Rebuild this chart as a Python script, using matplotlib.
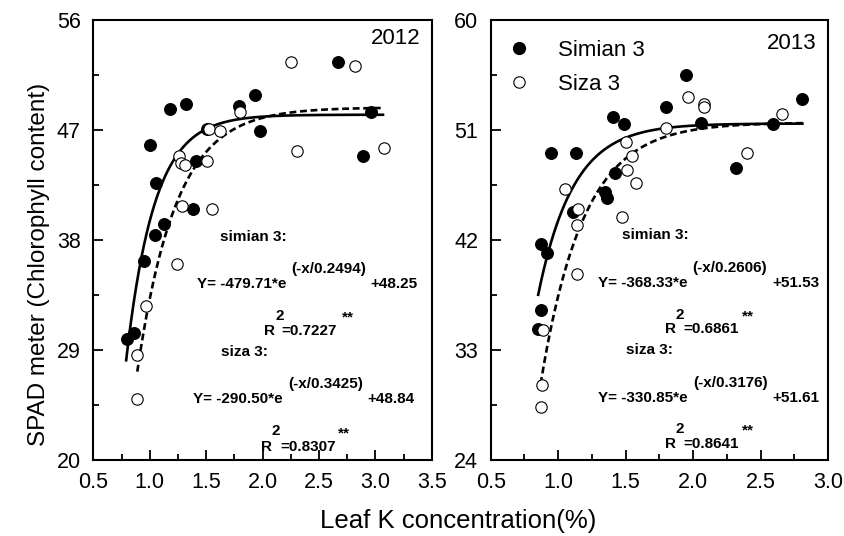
import numpy as np
import matplotlib
matplotlib.use("Agg")
import matplotlib.pyplot as plt
from matplotlib.ticker import FormatStrFormatter, MultipleLocator
from matplotlib.lines import Line2D

plt.rcParams['font.family'] = ['Liberation Sans', 'DejaVu Sans']

# ---------------- data ----------------
simian2012_x = [0.80, 0.86, 0.95, 1.00, 1.05, 1.06, 1.13, 1.18, 1.32, 1.38, 1.41, 1.51, 1.79, 1.93, 1.98, 2.67, 2.89, 2.96]
simian2012_y = [29.9, 30.4, 36.3, 45.8, 38.4, 42.7, 39.3, 48.7, 49.1, 40.5, 44.5, 47.1, 49.0, 49.9, 46.9, 52.6, 44.9, 48.5]
siza2012_x = [0.89, 0.89, 0.97, 1.24, 1.26, 1.28, 1.31, 1.29, 1.51, 1.53, 1.55, 1.62, 1.80, 2.25, 2.31, 2.82, 3.08]
siza2012_y = [25.0, 28.6, 32.6, 36.0, 44.9, 44.3, 44.1, 40.8, 44.5, 47.05, 40.5, 46.9, 48.45, 52.6, 45.3, 52.2, 45.5]

simian2013_x = [0.85, 0.87, 0.87, 0.92, 0.95, 1.11, 1.13, 1.35, 1.36, 1.41, 1.42, 1.49, 1.80, 1.95, 2.06, 2.32, 2.59, 2.81]
simian2013_y = [34.7, 36.3, 41.7, 40.9, 49.1, 44.3, 49.1, 45.9, 45.4, 52.1, 47.5, 51.5, 52.9, 55.5, 51.6, 47.9, 51.5, 53.5]
siza2013_x = [0.87, 0.88, 0.89, 1.05, 1.14, 1.14, 1.15, 1.47, 1.50, 1.51, 1.55, 1.58, 1.80, 1.96, 2.08, 2.08, 2.40, 2.66]
siza2013_y = [28.3, 30.1, 34.6, 46.2, 39.2, 43.2, 44.5, 43.9, 50.0, 47.7, 48.9, 46.7, 51.2, 53.7, 53.1, 52.9, 49.1, 52.3]

# fitted model parameters: Y = a*exp(-x/b) + c
fit2012_simian = (-479.71, 0.2494, 48.25)
fit2012_siza = (-290.50, 0.3425, 48.84)
fit2013_simian = (-368.33, 0.2606, 51.53)
fit2013_siza = (-330.85, 0.3176, 51.61)
fit_range_2012_simian = (0.79, 3.08)
fit_range_2012_siza = (0.89, 3.08)
fit_range_2013_simian = (0.85, 2.82)
fit_range_2013_siza = (0.87, 2.82)

yticks_2012 = [20, 29, 38, 47, 56]
yticks_2013 = [24, 33, 42, 51, 60]

legend_labels = ['Simian 3', 'Siza 3']
years = ['2012', '2013']

# ---------------- figure ----------------
W, H = 844, 536
fig = plt.figure(figsize=(W / 100, H / 100), dpi=100)

def px_rect(x0, y0, x1, y1):
    return [x0 / W, 1 - y1 / H, (x1 - x0) / W, (y1 - y0) / H]

ax1 = fig.add_axes(px_rect(93.3, 20, 431.7, 460))
ax2 = fig.add_axes(px_rect(490.7, 20, 828, 460))

def model(p, x):
    a, b, c = p
    return a * np.exp(-x / b) + c

def style_axes(ax, xlim, ylim, yticks):
    ax.set_xlim(*xlim)
    ax.set_ylim(*ylim)
    ax.xaxis.set_major_locator(MultipleLocator(0.5))
    ax.xaxis.set_minor_locator(MultipleLocator(0.25))
    ax.xaxis.set_major_formatter(FormatStrFormatter('%.1f'))
    ax.set_yticks(yticks)
    ax.set_yticks([(yticks[i] + yticks[i + 1]) / 2 for i in range(len(yticks) - 1)], minor=True)
    for s in ax.spines.values():
        s.set_linewidth(1.5)
    ax.tick_params(which='both', direction='in', top=False, right=False, width=1.3,
                   labelsize=15.5, pad=9)
    ax.tick_params(which='major', length=7)
    ax.tick_params(which='minor', length=4)

def draw_panel(ax, sx, sy, zx, zy, fs, fz, rs, rz):
    xs = np.linspace(rs[0], rs[1], 400)
    ax.plot(xs, model(fs, xs), color='black', lw=1.9, zorder=2, solid_capstyle='butt')
    xz = np.linspace(rz[0], rz[1], 400)
    ax.plot(xz, model(fz, xz), color='black', lw=1.9, ls=(0, (2.6, 1.4)), zorder=2)
    ax.plot(sx, sy, 'o', ms=8.5, mfc='black', mec='black', mew=0.8, zorder=3)
    ax.plot(zx, zy, 'o', ms=8.2, mfc='white', mec='black', mew=0.8, zorder=4)

draw_panel(ax1, simian2012_x, simian2012_y, siza2012_x, siza2012_y,
           fit2012_simian, fit2012_siza, fit_range_2012_simian, fit_range_2012_siza)
draw_panel(ax2, simian2013_x, simian2013_y, siza2013_x, siza2013_y,
           fit2013_simian, fit2013_siza, fit_range_2013_simian, fit_range_2013_siza)

style_axes(ax1, (0.5, 3.5), (20, 56), yticks_2012)
style_axes(ax2, (0.5, 3.0), (24, 60), yticks_2013)

ax1.text(0.968, 0.982, years[0], transform=ax1.transAxes, ha='right', va='top', fontsize=16)
ax2.text(0.965, 0.970, years[1], transform=ax2.transAxes, ha='right', va='top', fontsize=16)

handles = [Line2D([], [], ls='none', marker='o', ms=8.5, mfc='black', mec='black'),
           Line2D([], [], ls='none', marker='o', ms=8.2, mfc='white', mec='black', mew=0.8)]
ax2.legend(handles, legend_labels, loc='upper left', bbox_to_anchor=(0.051, 0.955),
           frameon=False, fontsize=16, handlelength=1.0, handletextpad=1.25,
           borderaxespad=0, borderpad=0, labelspacing=0.6)

# annotations (pixel positions, baseline aligned)
def ftext(x, y, s, **kw):
    fig.text(x / W, 1 - y / H, s, ha='left', va='baseline', fontsize=11, fontweight='bold', **kw)

ann_left = [
    ("simian 3:", 220, 240.7), ("Y= -479.71*e", 196.7, 287.7), ("(-x/0.2494)", 291.7, 273.3),
    ("+48.25", 370, 287.7), ("2", 275, 320), ("R", 264, 335), ("=0.7227", 281.7, 335),
    ("**", 341.7, 321),
    ("siza 3:", 221, 356), ("Y= -290.50*e", 193, 403.3), ("(-x/0.3425)", 288, 388.3),
    ("+48.84", 367, 403.3), ("2", 272, 435), ("R", 261, 450.7), ("=0.8307", 280, 450.7),
    ("**", 338, 437),
]
ann_right = [
    ("simian 3:", 621.7, 239), ("Y= -368.33*e", 598, 286.7), ("(-x/0.2606)", 692, 272.3),
    ("+51.53", 772, 286.7), ("2", 676, 318.7), ("R", 665, 333.3), ("=0.6861", 683, 333.3),
    ("**", 742, 320),
    ("siza 3:", 626, 354.3), ("Y= -330.85*e", 598, 401.7), ("(-x/0.3176)", 693, 386.7),
    ("+51.61", 772, 401.7), ("2", 676, 433.3), ("R", 665, 448.3), ("=0.8641", 683, 448.3),
    ("**", 742, 434),
]
for s, x, y in ann_left + ann_right:
    ftext(x, y, s)

fig.text(458.5 / W, 1 - 521 / H, 'Leaf K concentration(%)', ha='center', va='center', fontsize=18.5)
fig.text(39 / W, 1 - 264 / H, 'SPAD meter (Chlorophyll content)', ha='center', va='center',
         rotation=90, fontsize=17.5)

fig.savefig('out.png', dpi=100)
